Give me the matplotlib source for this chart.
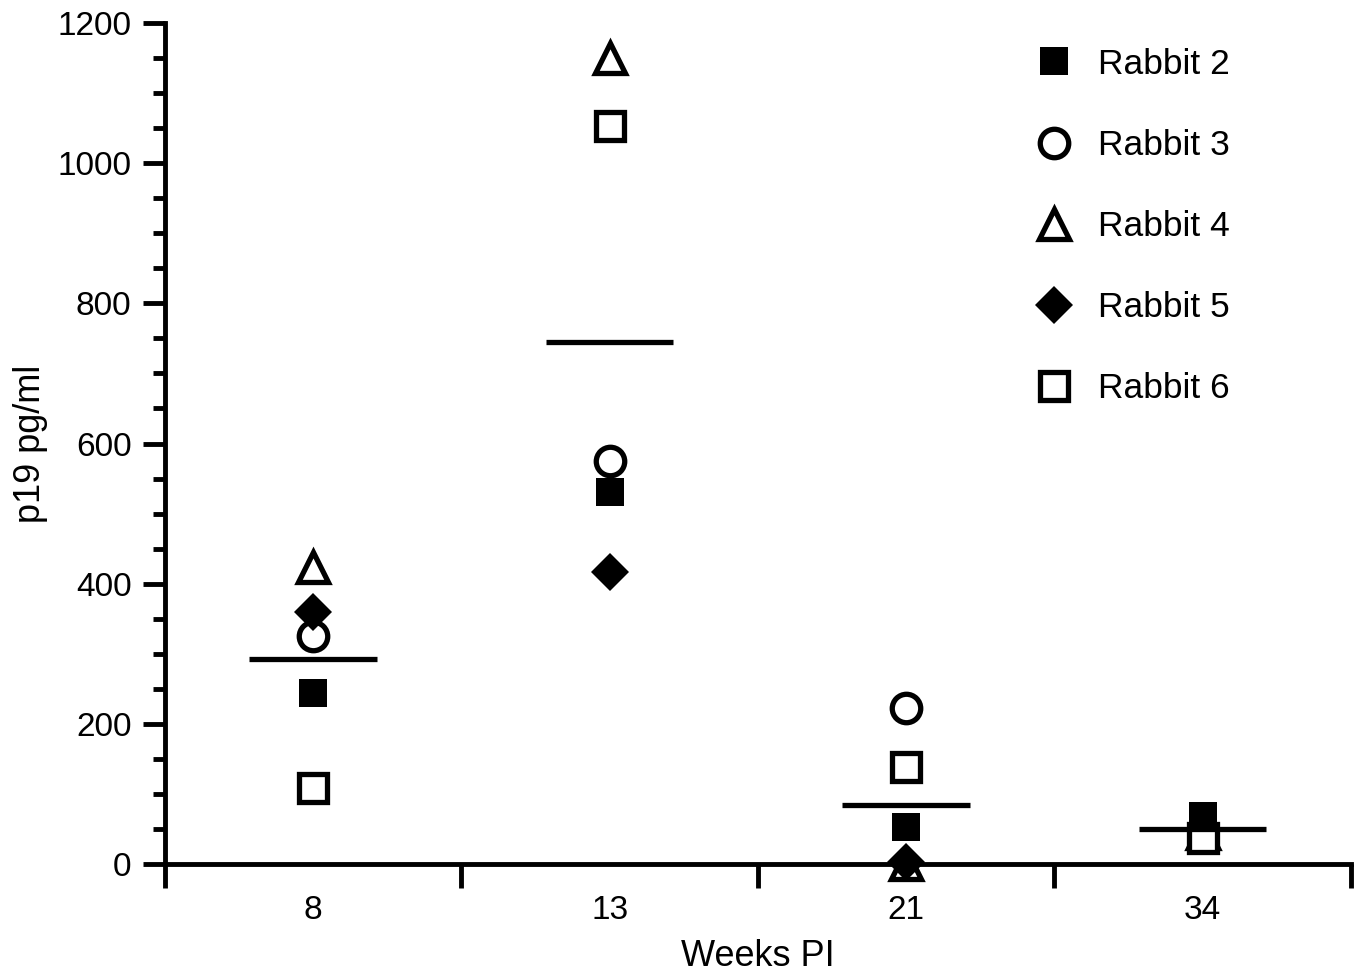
import matplotlib
matplotlib.use("Agg")
import matplotlib.pyplot as plt
from matplotlib.ticker import MultipleLocator, FixedLocator, NullFormatter
import numpy as np

plt.rcParams['font.family'] = ['Liberation Sans', 'DejaVu Sans']

weeks = ['8', '13', '21', '34']
rabbit2 = [244, 531, 53, 68]
rabbit3 = [325, 575, 223, np.nan]
rabbit4 = [424, 1150, 0, 44]
rabbit5 = [360, 416, 3, np.nan]
rabbit6 = [108, 1053, 139, 37]

series = [
    ('Rabbit 2', rabbit2, dict(marker='s', ms=20, mfc='black', mec='black', mew=0)),
    ('Rabbit 3', rabbit3, dict(marker='o', ms=20.5, mfc='white', mec='black', mew=3.8)),
    ('Rabbit 4', rabbit4, dict(marker='^', ms=22, mfc='white', mec='black', mew=3.8)),
    ('Rabbit 5', rabbit5, dict(marker='D', ms=19.5, mfc='black', mec='black', mew=0)),
    ('Rabbit 6', rabbit6, dict(marker='s', ms=20.5, mfc='white', mec='black', mew=3.8)),
]

fig = plt.figure(figsize=(13.61, 9.75), dpi=100)
ax = fig.add_axes([0.1212, 0.1138, 0.8714, 0.8626])

x = np.arange(len(weeks))
for name, vals, style in series:
    ax.plot(x, vals, ls='none', label=name, clip_on=False, zorder=3, **style)

# mean of each week
means = np.nanmean(np.array([rabbit2, rabbit3, rabbit4, rabbit5, rabbit6], dtype=float), axis=0)
ax.hlines(means, x - 0.215, x + 0.215, color='black', lw=3.8, zorder=4)

ax.set_xlim(-0.5, 3.5)
ax.set_ylim(0, 1200)

ax.spines['top'].set_visible(False)
ax.spines['right'].set_visible(False)
ax.spines['left'].set_linewidth(3.5)
ax.spines['bottom'].set_linewidth(3.5)

# x: labels at the centres, tick marks between groups
ax.xaxis.set_major_locator(FixedLocator(x))
ax.set_xticklabels(weeks)
ax.xaxis.set_minor_locator(FixedLocator(np.arange(-0.5, 4, 1.0)))
ax.xaxis.set_minor_formatter(NullFormatter())
ax.tick_params(axis='x', which='major', length=0, pad=22, labelsize=24)
ax.tick_params(axis='x', which='minor', length=17, width=3.5, direction='out')

ax.yaxis.set_major_locator(MultipleLocator(200))
ax.yaxis.set_minor_locator(MultipleLocator(50))
ax.tick_params(axis='y', which='major', length=16, width=3.5, pad=8, labelsize=24)
ax.tick_params(axis='y', which='minor', length=9, width=3.5)

ax.set_xlabel('Weeks PI', fontsize=26, labelpad=10)
ax.set_ylabel('p19 pg/ml', fontsize=26, labelpad=7)

ax.legend(loc='upper left', bbox_to_anchor=(0.7612, 0.951), bbox_transform=fig.transFigure,
          frameon=False, fontsize=25.5, numpoints=1, handlelength=1.0, handletextpad=0.76,
          labelspacing=1.36, borderpad=0, borderaxespad=0)

fig.savefig('out.png', dpi=100)
